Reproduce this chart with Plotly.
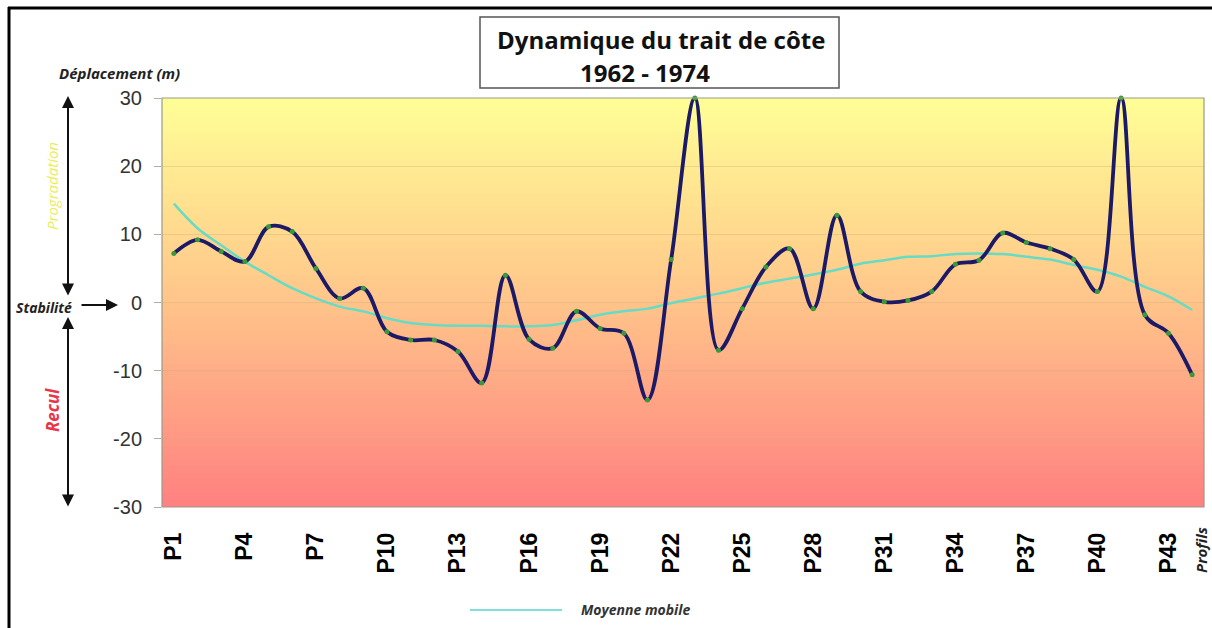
import plotly.graph_objects as go

# Shoreline displacement per profile, 1962-1974 (metres)
profils = [f"P{i}" for i in range(1, 45)]
deplacement = [7.2, 9.2, 7.5, 6.0, 11.1, 10.4, 5.0, 0.6, 2.1, -4.3,
               -5.5, -5.5, -7.2, -11.8, 4.0, -5.4, -6.7, -1.3, -3.8, -4.5,
               -14.3, 6.3, 30.0, -7.0, -0.9, 5.2, 7.9, -0.9, 12.8, 1.6,
               0.1, 0.3, 1.6, 5.6, 6.2, 10.2, 8.8, 7.9, 6.3, 1.6,
               30.0, -1.8, -4.5, -10.6]
moyenne_mobile = [14.5, 10.9, 8.4, 6.0, 4.0, 2.1, 0.6, -0.6, -1.3, -2.3,
                  -3.0, -3.3, -3.4, -3.4, -3.5, -3.5, -3.3, -2.6, -1.8, -1.3,
                  -0.9, -0.1, 0.6, 1.3, 2.1, 2.9, 3.5, 4.1, 4.8, 5.7,
                  6.2, 6.7, 6.8, 7.1, 7.2, 7.1, 6.7, 6.3, 5.5, 4.8,
                  3.8, 2.3, 0.9, -1.1]
y_ticks = [-30, -20, -10, 0, 10, 20, 30]
y_ticktext = ["-30", "-20", "-10", "0", "10", "20", "30"]
x_ticks = profils[::3]

W, H = 1212, 628
L, R, T, B = 162, 1204, 98, 507  # plot area in pixels


def px(x):
    return (x - L) / (R - L)


def py(y):
    return (B - y) / (B - T)


fig = go.Figure()

fig.add_trace(go.Scatter(
    x=profils, y=moyenne_mobile, mode="lines", name="Moyenne mobile",
    line=dict(color="#66dcc4", width=2.5, shape="spline", smoothing=1.0),
    showlegend=False, cliponaxis=False,
))
fig.add_trace(go.Scatter(
    x=profils, y=deplacement, mode="lines+markers", name="Déplacement",
    line=dict(color="#1c1a66", width=3.8, shape="spline", smoothing=1.0),
    marker=dict(color="#3a9a3a", size=5),
    showlegend=False, cliponaxis=False,
))

shapes = []
# vertical yellow-to-red background gradient (overlapping bands, no seams)
top_c = (255, 255, 150)
mid_c = (255, 196, 138)
bot_c = (255, 128, 128)
n = 60
for k in range(n):
    t = (k + 0.5) / n  # 0 at bottom, 1 at top
    if t >= 0.5:
        u = (t - 0.5) * 2
        c = [round(mid_c[j] + (top_c[j] - mid_c[j]) * u) for j in range(3)]
    else:
        u = t * 2
        c = [round(bot_c[j] + (mid_c[j] - bot_c[j]) * u) for j in range(3)]
    y0 = -30 + 60 * k / n
    y1 = min(30, -30 + 60 * (k + 1) / n + 0.6)
    shapes.append(dict(type="rect", xref="paper", yref="y", x0=0, x1=1,
                       y0=y0, y1=y1, layer="below", line=dict(width=0),
                       fillcolor=f"rgb({c[0]},{c[1]},{c[2]})"))

# plot area border
shapes.append(dict(type="rect", xref="paper", yref="paper", x0=0, x1=1, y0=0, y1=1,
                   line=dict(color="#9a9a8a", width=1.2)))
# outer frame (top and left)
shapes.append(dict(type="line", xref="paper", yref="paper",
                   x0=px(8), x1=px(W + 5), y0=py(8), y1=py(8),
                   line=dict(color="black", width=3)))
shapes.append(dict(type="line", xref="paper", yref="paper",
                   x0=px(9), x1=px(9), y0=py(7), y1=py(H + 5),
                   line=dict(color="black", width=3)))
# title box
shapes.append(dict(type="rect", xref="paper", yref="paper",
                   x0=px(480), x1=px(839), y0=py(88), y1=py(17),
                   fillcolor="white", line=dict(color="#555555", width=1.5)))
# legend sample line
shapes.append(dict(type="line", xref="paper", yref="paper",
                   x0=px(470), x1=px(562), y0=py(610), y1=py(610),
                   line=dict(color="#7fe0dc", width=2)))

lbl = "Open Sans"
annotations = [
    dict(x=px(661), y=py(40), text="<b>Dynamique du trait de côte</b>",
         font=dict(family=lbl, size=24, color="#111111")),
    dict(x=px(645), y=py(72), text="<b>1962 - 1974</b>",
         font=dict(family=lbl, size=24, color="#111111")),
    dict(x=px(119), y=py(73), text="<b><i>Déplacement (m)</i></b>",
         font=dict(family=lbl, size=15, color="#222222")),
    dict(x=px(52), y=py(186), text="<i>Progradation</i>", textangle=-90,
         font=dict(family=lbl, size=15, color="#ecec5a")),
    dict(x=px(52), y=py(410), text="<b><i>Recul</i></b>", textangle=-90,
         font=dict(family=lbl, size=17, color="#e8364a")),
    dict(x=px(44), y=py(307), text="<b><i>Stabilité</i></b>",
         font=dict(family=lbl, size=14, color="#222222")),
    dict(x=px(1201), y=py(550), text="<b><i>Profils</i></b>", textangle=-90,
         font=dict(family=lbl, size=15, color="#222222")),
    dict(x=px(635), y=py(609), text="<b><i>Moyenne mobile</i></b>",
         font=dict(family=lbl, size=14, color="#333333")),
    # double-headed arrows (offsets in pixels)
    dict(x=px(68), y=py(96), ax=0, ay=201,
         showarrow=True, arrowhead=2, arrowside="end+start", arrowsize=1.2,
         arrowwidth=2, arrowcolor="#111111", text=""),
    dict(x=px(68), y=py(317), ax=0, ay=191,
         showarrow=True, arrowhead=2, arrowside="end+start", arrowsize=1.2,
         arrowwidth=2, arrowcolor="#111111", text=""),
    # arrow pointing at zero
    dict(x=px(118), y=py(305), ax=-38, ay=0,
         showarrow=True, arrowhead=2, arrowsize=1.2, arrowwidth=2,
         arrowcolor="#111111", text=""),
]
for a in annotations:
    a.setdefault("xref", "paper")
    a.setdefault("yref", "paper")
    a.setdefault("showarrow", False)
    a.setdefault("xanchor", "center")
    a.setdefault("yanchor", "middle")

fig.update_layout(
    width=W, height=H,
    margin=dict(l=L, r=W - R, t=T, b=H - B),
    paper_bgcolor="white", plot_bgcolor="rgba(0,0,0,0)",
    shapes=shapes, annotations=annotations,
    xaxis=dict(
        type="category", categoryorder="array", categoryarray=profils,
        range=[-0.5, len(profils) - 0.5],
        tickmode="array", tickvals=x_ticks, ticktext=x_ticks,
        tickangle=-90, ticks="", showgrid=False, zeroline=False,
        showline=False, ticklabelstandoff=20,
        tickfont=dict(family="Liberation Sans", size=23, color="black", weight="bold"),
    ),
    yaxis=dict(
        range=[-30, 30], tickmode="array", tickvals=y_ticks, ticktext=y_ticktext,
        ticks="outside", ticklen=7, tickcolor="#b0b0a0",
        showgrid=True, gridcolor="rgba(200,170,120,0.35)", gridwidth=1,
        zeroline=False, showline=False,
        tickfont=dict(family="Liberation Sans", size=20, color="#333333"),
        ticklabelstandoff=8,
    ),
)

fig.write_html("out.html")
